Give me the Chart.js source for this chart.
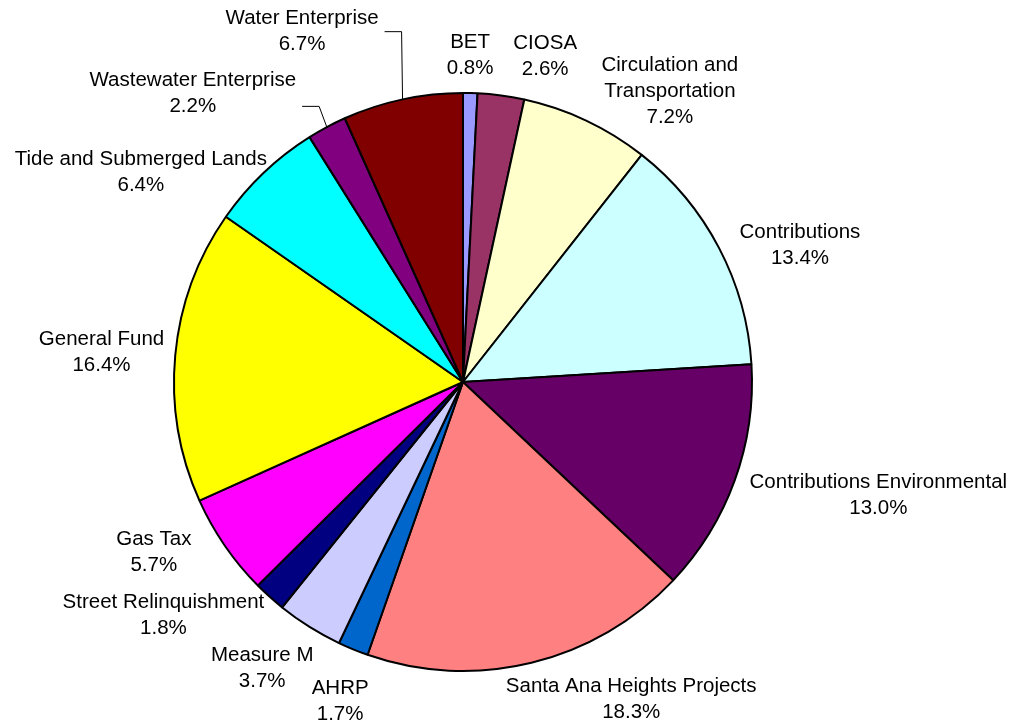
<!DOCTYPE html>
<html>
<head>
<meta charset="utf-8">
<title>Funding Sources</title>
<script src="https://cdn.jsdelivr.net/npm/chart.js@4/dist/chart.umd.min.js"></script>
<style>
    html, body { margin: 0; padding: 0; background: #ffffff; }
    #fundChart { display: block; }
</style>
</head>
<body>
<canvas id="fundChart" width="1011" height="723"></canvas>
<script>
// Funding sources, clockwise from 12 o'clock
const fundNames = [
    ['BET'],
    ['CIOSA'],
    ['Circulation and', 'Transportation'],
    ['Contributions'],
    ['Contributions Environmental'],
    ['Santa Ana Heights Projects'],
    ['AHRP'],
    ['Measure M'],
    ['Street Relinquishment'],
    ['Gas Tax'],
    ['General Fund'],
    ['Tide and Submerged Lands'],
    ['Wastewater Enterprise'],
    ['Water Enterprise']
];
const fundShares = [0.8, 2.6, 7.2, 13.4, 13.0, 18.3, 1.7, 3.7, 1.8, 5.7, 16.4, 6.4, 2.2, 6.7];
const fundColors = [
    '#9999FF', '#993366', '#FFFFCC', '#CCFFFF', '#660066', '#FF8080', '#0066CC',
    '#CCCCFF', '#000080', '#FF00FF', '#FFFF00', '#00FFFF', '#800080', '#800000'
];

// label placement: distance as a multiple of the radius, angle nudge (deg) off the slice middle,
// and for the two crowded slices a leader line (y offset of its horizontal part)
const labelPlacement = [
    { dist: 1.132, turn: -0.2 },
    { dist: 1.162, turn: 6.6 },
    { dist: 1.235, turn: 10.2 },
    { dist: 1.258, turn: 5.6 },
    { dist: 1.490, turn: -4.6 },
    { dist: 1.244, turn: -14.2 },
    { dist: 1.184, turn: -1.3 },
    { dist: 1.209, turn: 3.0 },
    { dist: 1.314, turn: 10.1 },
    { dist: 1.222, turn: 5.6 },
    { dist: 1.255, turn: -0.6 },
    { dist: 1.329, turn: -13.4 },
    { dist: 1.368, turn: -15.0, leader: 13 },
    { dist: 1.334, turn: -12.6, leader: 0 }
];

const LABEL_FONT = '20.5px "Liberation Sans", Arial, sans-serif';
const LINE_GAP = 26;

const sliceLabels = {
    id: 'sliceLabels',
    afterDatasetsDraw(chart) {
        const ctx = chart.ctx;
        const arcs = chart.getDatasetMeta(0).data;
        ctx.save();
        ctx.font = LABEL_FONT;
        ctx.fillStyle = '#000000';
        ctx.textAlign = 'center';
        ctx.textBaseline = 'middle';
        arcs.forEach((arc, i) => {
            const p = arc.getProps(['x', 'y', 'startAngle', 'endAngle', 'outerRadius'], true);
            const mid = (p.startAngle + p.endAngle) / 2;
            const place = labelPlacement[i];
            const a = mid + place.turn * Math.PI / 180;
            const cx = p.x + Math.cos(a) * p.outerRadius * place.dist;
            const cy = p.y + Math.sin(a) * p.outerRadius * place.dist;

            const lines = fundNames[i].concat([fundShares[i].toFixed(1) + '%']);
            const top = cy - (lines.length - 1) * LINE_GAP / 2;
            let widest = 0;
            lines.forEach((txt, k) => {
                ctx.fillText(txt, cx, top + k * LINE_GAP);
                widest = Math.max(widest, ctx.measureText(txt).width);
            });

            if (place.leader !== undefined) {
                const ex = p.x + Math.cos(mid) * p.outerRadius;
                const ey = p.y + Math.sin(mid) * p.outerRadius;
                const hy = cy + place.leader;
                const endX = cx + widest / 2 + 6;
                ctx.beginPath();
                ctx.moveTo(ex, ey);
                ctx.lineTo(endX + 17, hy);
                ctx.lineTo(endX, hy);
                ctx.lineWidth = 1;
                ctx.strokeStyle = '#000000';
                ctx.stroke();
            }
        });
        ctx.restore();
    }
};

new Chart(document.getElementById('fundChart').getContext('2d'), {
    type: 'pie',
    data: {
        labels: fundNames.map(n => n.join(' ')),
        datasets: [{
            data: fundShares,
            backgroundColor: fundColors,
            borderColor: '#000000',
            borderWidth: 2
        }]
    },
    options: {
        responsive: false,
        animation: false,
        radius: 289,
        layout: { padding: { left: 0, right: 85, top: 41, bottom: 0 } },
        plugins: {
            legend: { display: false },
            tooltip: { enabled: false }
        }
    },
    plugins: [sliceLabels]
});
</script>
</body>
</html>
